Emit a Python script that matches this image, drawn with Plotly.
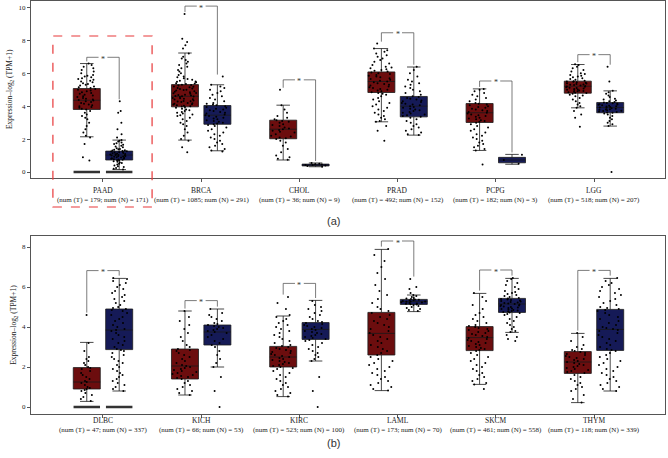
import plotly.graph_objects as go

# ---------------- data: panel (a) ----------------
cats_a = ["PAAD", "BRCA", "CHOL", "PRAD", "PCPG", "LGG"]
nT_a = [179, 1085, 36, 492, 182, 518]
nN_a = [171, 291, 9, 152, 3, 207]
T_q1_a = [3.8, 3.96, 2.02, 4.83, 3.01, 4.79]
T_med_a = [4.36, 4.6, 2.6, 5.5, 3.6, 5.21]
T_q3_a = [5.07, 5.31, 3.15, 6.08, 4.16, 5.52]
T_lo_a = [2.14, 1.94, 0.73, 3.05, 1.31, 3.9]
T_hi_a = [6.59, 7.23, 4.06, 7.5, 5.05, 6.53]
N_q1_a = [0.73, 2.9, 0.37, 3.35, 0.56, 3.6]
N_med_a = [1.03, 3.45, 0.42, 4.0, 0.73, 3.92]
N_q3_a = [1.27, 4.04, 0.48, 4.59, 0.89, 4.22]
N_lo_a = [0.15, 1.29, 0.32, 2.24, 0.47, 2.79]
N_hi_a = [1.94, 5.3, 0.55, 6.38, 1.07, 4.93]
sig_a = [6.97, 10.08, 5.6, 8.46, 5.53, 7.13]

PAAD_T = [6.6,6.5,6.4,6.3,6.2,6.1,6.0,5.9,5.85,5.8,5.75,5.7,5.65,5.6,5.55,5.5,5.45,5.4,5.35,5.3,5.25,5.2,5.15,5.1,5.05,5.0,4.95,4.9,4.85,4.8,4.75,4.7,4.65,4.6,4.55,4.5,4.45,4.4,4.38,4.35,4.3,4.25,4.2,4.15,4.1,4.05,4.0,3.95,3.9,3.85,3.8,3.7,3.6,3.5,3.4,3.3,3.2,3.0,2.8,2.6,2.4,2.2,2.1,1.7,0.9,0.7,0,0,0,0,0,0,0,0,0,0,0,0]
PAAD_N = [4.3,3.7,3.6,3.0,2.6,2.3,2.1,1.95,1.9,1.85,1.8,1.75,1.7,1.65,1.6,1.55,1.5,1.45,1.4,1.38,1.35,1.32,1.3,1.28,1.26,1.24,1.22,1.2,1.18,1.16,1.14,1.12,1.1,1.08,1.06,1.04,1.03,1.02,1.0,0.98,0.96,0.94,0.92,0.9,0.88,0.86,0.84,0.82,0.8,0.78,0.76,0.74,0.72,0.7,0.66,0.62,0.58,0.54,0.5,0.45,0.4,0.35,0.3,0.25,0.2,0.15,0,0,0,0,0,0,0,0,0,0,0,0]
BRCA_T = [9.6,8.1,7.9,7.7,7.5,7.2,7.0,6.9,6.8,6.7,6.6,6.5,6.4,6.3,6.2,6.1,6.0,5.9,5.8,5.75,5.7,5.65,5.6,5.55,5.5,5.48,5.45,5.4,5.38,5.35,5.3,5.28,5.25,5.2,5.18,5.15,5.1,5.08,5.05,5.0,4.98,4.95,4.9,4.88,4.85,4.8,4.78,4.75,4.7,4.68,4.65,4.62,4.6,4.58,4.55,4.5,4.48,4.45,4.42,4.4,4.35,4.32,4.3,4.28,4.25,4.2,4.18,4.15,4.12,4.1,4.05,4.02,4.0,3.98,3.95,3.9,3.85,3.8,3.75,3.7,3.65,3.6,3.55,3.5,3.45,3.4,3.3,3.2,3.1,3.0,2.9,2.8,2.6,2.4,2.2,2.0,1.9,1.5,1.2]
BRCA_N = [5.8,5.3,5.2,5.1,5.0,4.9,4.8,4.7,4.6,4.5,4.4,4.3,4.2,4.15,4.1,4.05,4.0,3.95,3.9,3.85,3.8,3.75,3.7,3.65,3.6,3.55,3.5,3.45,3.4,3.35,3.3,3.25,3.2,3.15,3.1,3.05,3.0,2.95,2.9,2.85,2.8,2.7,2.6,2.5,2.4,2.3,2.2,2.1,2.0,1.9,1.8,1.7,1.6,1.5,1.4,1.3,1.25]
CHOL_T = [5.0,4.05,3.8,3.6,3.4,3.3,3.2,3.15,3.1,3.05,3.0,2.9,2.85,2.8,2.7,2.65,2.6,2.55,2.5,2.45,2.4,2.3,2.2,2.15,2.1,2.05,2.0,1.9,1.8,1.6,1.4,1.2,1.0,0.9,0.8,0.75]
CHOL_N = [0.55,0.5,0.47,0.45,0.43,0.42,0.4,0.37,0.32]
PRAD_T = [7.8,7.5,7.4,7.3,7.2,7.1,7.0,6.9,6.8,6.7,6.6,6.5,6.4,6.35,6.3,6.25,6.2,6.15,6.1,6.05,6.0,5.95,5.9,5.85,5.8,5.75,5.7,5.65,5.6,5.55,5.5,5.45,5.4,5.35,5.3,5.25,5.2,5.15,5.1,5.05,5.0,4.95,4.9,4.85,4.8,4.75,4.7,4.6,4.5,4.4,4.3,4.2,4.1,4.0,3.9,3.8,3.7,3.6,3.5,3.4,3.3,3.2,3.1,3.05,2.8,2.5,1.9]
PRAD_N = [6.4,6.2,6.0,5.8,5.6,5.5,5.4,5.3,5.2,5.1,5.0,4.9,4.8,4.7,4.6,4.55,4.5,4.45,4.4,4.35,4.3,4.25,4.2,4.15,4.1,4.05,4.0,3.95,3.9,3.85,3.8,3.75,3.7,3.65,3.6,3.55,3.5,3.45,3.4,3.35,3.3,3.2,3.1,3.0,2.9,2.8,2.7,2.6,2.5,2.4,2.3,2.25]
PCPG_T = [5.05,5.0,4.9,4.8,4.7,4.6,4.5,4.4,4.3,4.2,4.15,4.1,4.05,4.0,3.95,3.9,3.85,3.8,3.75,3.7,3.65,3.6,3.55,3.5,3.45,3.4,3.35,3.3,3.25,3.2,3.15,3.1,3.05,3.0,2.9,2.8,2.7,2.6,2.5,2.4,2.3,2.2,2.1,2.0,1.9,1.8,1.7,1.6,1.5,1.4,1.3,0.45]
PCPG_N = [1.05,0.73,0.5]
LGG_T = [6.55,6.5,6.4,6.3,6.2,6.1,6.0,5.95,5.9,5.85,5.8,5.75,5.7,5.65,5.6,5.55,5.52,5.5,5.48,5.45,5.42,5.4,5.38,5.35,5.32,5.3,5.28,5.25,5.22,5.2,5.18,5.15,5.12,5.1,5.08,5.05,5.02,5.0,4.98,4.95,4.92,4.9,4.88,4.85,4.82,4.8,4.75,4.7,4.65,4.6,4.5,4.4,4.3,4.2,4.1,4.0,3.9,3.7,3.5,3.3,2.75]
LGG_N = [6.4,5.5,4.93,4.85,4.75,4.65,4.55,4.45,4.4,4.35,4.3,4.25,4.22,4.2,4.18,4.15,4.12,4.1,4.08,4.05,4.02,4.0,3.98,3.95,3.92,3.9,3.88,3.85,3.82,3.8,3.78,3.75,3.72,3.7,3.68,3.65,3.62,3.6,3.55,3.5,3.4,3.3,3.2,3.1,3.0,2.9,2.8,0.0]

pts_T_a = [PAAD_T, BRCA_T, CHOL_T, PRAD_T, PCPG_T, LGG_T]
pts_N_a = [PAAD_N, BRCA_N, CHOL_N, PRAD_N, PCPG_N, LGG_N]

# ---------------- data: panel (b) ----------------
cats_b = ["DLBC", "KICH", "KIRC", "LAML", "SKCM", "THYM"]
nT_b = [47, 66, 523, 173, 461, 118]
nN_b = [337, 53, 100, 70, 558, 339]
T_q1_b = [0.9, 1.4, 2.0, 2.6, 2.82, 1.68]
T_med_b = [1.25, 2.05, 2.5, 3.68, 3.47, 2.25]
T_q3_b = [1.97, 2.9, 3.03, 4.73, 4.02, 2.77]
T_lo_b = [0.28, 0.6, 0.52, 0.82, 1.13, 0.22]
T_hi_b = [3.23, 4.8, 4.55, 7.88, 5.68, 3.68]
N_q1_b = [2.87, 3.1, 3.38, 5.13, 4.73, 2.83]
N_med_b = [3.85, 3.75, 3.88, 5.27, 5.15, 3.88]
N_q3_b = [4.9, 4.1, 4.22, 5.38, 5.43, 4.88]
N_lo_b = [0.8, 2.0, 2.3, 4.77, 3.73, 0.8]
N_hi_b = [6.43, 4.9, 5.33, 5.6, 6.43, 6.43]
sig_b = [6.82, 5.32, 6.18, 8.3, 6.85, 6.83]

DLBC_T = [4.6,3.2,2.8,2.5,2.4,2.3,2.2,2.1,2.0,1.95,1.9,1.8,1.7,1.6,1.5,1.4,1.3,1.25,1.2,1.1,1.0,0.95,0.9,0.85,0.8,0.7,0.6,0.5,0.4,0.3,0,0,0,0,0,0,0,0,0,0,0,0]
DLBC_N = [6.45,6.4,6.3,6.2,6.1,6.0,5.9,5.8,5.7,5.6,5.5,5.4,5.3,5.2,5.1,5.0,4.95,4.9,4.85,4.8,4.7,4.6,4.5,4.4,4.3,4.2,4.1,4.0,3.9,3.85,3.8,3.7,3.6,3.5,3.4,3.3,3.2,3.1,3.0,2.9,2.85,2.8,2.7,2.6,2.5,2.4,2.3,2.2,2.1,2.0,1.9,1.8,1.7,1.6,1.5,1.4,1.3,1.2,1.1,1.0,0.9,0.8,0,0,0,0,0,0,0,0,0,0,0,0]
KICH_T = [4.8,4.5,4.3,4.1,3.9,3.7,3.5,3.3,3.1,3.0,2.9,2.85,2.8,2.7,2.6,2.5,2.4,2.3,2.2,2.1,2.05,2.0,1.95,1.9,1.85,1.8,1.75,1.7,1.65,1.6,1.55,1.5,1.45,1.4,1.3,1.2,1.1,1.0,0.9,0.8,0.7,0.6]
KICH_N = [4.9,4.7,4.6,4.5,4.4,4.3,4.2,4.15,4.1,4.05,4.0,3.95,3.9,3.85,3.8,3.75,3.7,3.6,3.5,3.4,3.3,3.2,3.1,3.0,2.8,2.6,2.4,2.2,2.0,1.5,0.8,0.0]
KIRC_T = [5.5,5.2,4.9,4.6,4.5,4.4,4.3,4.2,4.1,4.0,3.9,3.8,3.7,3.6,3.5,3.4,3.3,3.2,3.1,3.05,3.0,2.95,2.9,2.85,2.8,2.75,2.7,2.65,2.6,2.55,2.5,2.45,2.4,2.35,2.3,2.25,2.2,2.15,2.1,2.05,2.0,1.95,1.9,1.8,1.7,1.6,1.5,1.4,1.3,1.2,1.1,1.0,0.9,0.8,0.7,0.6,0.52]
KIRC_N = [5.3,5.1,5.0,4.9,4.8,4.7,4.6,4.5,4.4,4.3,4.25,4.2,4.15,4.1,4.05,4.0,3.95,3.9,3.85,3.8,3.75,3.7,3.65,3.6,3.55,3.5,3.45,3.4,3.35,3.3,3.2,3.1,3.0,2.9,2.8,2.7,2.6,2.5,2.4,2.3,1.5,0.8,0.0]
LAML_T = [7.9,7.6,7.3,7.0,6.7,6.4,6.1,5.8,5.6,5.4,5.2,5.0,4.9,4.8,4.7,4.6,4.5,4.4,4.3,4.2,4.1,4.0,3.9,3.8,3.7,3.6,3.5,3.4,3.3,3.2,3.1,3.0,2.9,2.8,2.7,2.6,2.5,2.4,2.3,2.2,2.1,2.0,1.9,1.8,1.7,1.6,1.5,1.4,1.3,1.2,1.1,1.0,0.9,0.82]
LAML_N = [6.4,6.0,5.9,5.7,5.6,5.55,5.5,5.45,5.42,5.4,5.38,5.36,5.34,5.32,5.3,5.28,5.27,5.26,5.24,5.22,5.2,5.18,5.16,5.14,5.12,5.1,5.05,5.0,4.95,4.9,4.85,4.8]
SKCM_T = [5.7,5.5,5.3,5.1,4.9,4.7,4.6,4.5,4.4,4.3,4.2,4.1,4.05,4.0,3.95,3.9,3.85,3.8,3.75,3.7,3.65,3.6,3.55,3.5,3.45,3.4,3.35,3.3,3.25,3.2,3.15,3.1,3.05,3.0,2.95,2.9,2.85,2.8,2.7,2.6,2.5,2.4,2.3,2.2,2.1,2.0,1.9,1.8,1.7,1.6,1.5,1.4,1.3,1.2,1.13,0.9]
SKCM_N = [6.45,6.4,6.3,6.2,6.1,6.0,5.9,5.8,5.75,5.7,5.65,5.6,5.55,5.5,5.45,5.42,5.4,5.38,5.35,5.32,5.3,5.28,5.25,5.22,5.2,5.18,5.15,5.12,5.1,5.08,5.05,5.02,5.0,4.98,4.95,4.92,4.9,4.88,4.85,4.82,4.8,4.77,4.75,4.72,4.7,4.65,4.6,4.5,4.4,4.3,4.2,4.1,4.0,3.9,3.8,3.75,3.6,3.5,3.4,3.3]
THYM_T = [3.7,3.5,3.3,3.1,3.0,2.9,2.85,2.8,2.75,2.7,2.65,2.6,2.55,2.5,2.45,2.4,2.35,2.3,2.25,2.2,2.15,2.1,2.05,2.0,1.95,1.9,1.85,1.8,1.75,1.7,1.6,1.5,1.4,1.3,1.2,1.1,1.0,0.9,0.8,0.6,0.4,0.22]
THYM_N = [6.45,6.3,6.2,6.1,6.0,5.9,5.8,5.7,5.6,5.5,5.4,5.3,5.2,5.1,5.0,4.95,4.9,4.85,4.8,4.7,4.6,4.5,4.4,4.3,4.2,4.1,4.0,3.95,3.9,3.85,3.8,3.7,3.6,3.5,3.4,3.3,3.2,3.1,3.0,2.9,2.85,2.8,2.7,2.6,2.5,2.4,2.3,2.2,2.1,2.0,1.9,1.8,1.7,1.6,1.5,1.4,1.3,1.2,1.1,1.0,0.9,0.8]

pts_T_b = [DLBC_T, KICH_T, KIRC_T, LAML_T, SKCM_T, THYM_T]
pts_N_b = [DLBC_N, KICH_N, KIRC_N, LAML_N, SKCM_N, THYM_N]

# ---------------- styling ----------------
W, H = 668, 458
TUMOR = "#6c0d0e"
NORMAL = "#151a57"
OFF = 0.165
BW = 0.275
SERIF = "Liberation Serif, Times New Roman, serif"

fig = go.Figure()


def add_panel(xa, ya, cats, tq1, tmed, tq3, tlo, thi, nq1, nmed, nq3, nlo, nhi, ptsT, ptsN, sig):
    xT = [i - OFF for i in range(len(cats))]
    xN = [i + OFF for i in range(len(cats))]
    for xs, q1, md, q3, lo, hi, col in [(xT, tq1, tmed, tq3, tlo, thi, TUMOR),
                                         (xN, nq1, nmed, nq3, nlo, nhi, NORMAL)]:
        fig.add_trace(go.Box(
            x=xs, q1=q1, median=md, q3=q3, lowerfence=lo, upperfence=hi,
            fillcolor=col, line=dict(color="#1a1a1a", width=0.8),
            width=BW, whiskerwidth=0.5, boxpoints=False,
            xaxis=xa, yaxis=ya, showlegend=False, hoverinfo="skip"))
    for xs, pts in [(xT, ptsT), (xN, ptsN)]:
        for i, vals in enumerate(pts):
            fig.add_trace(go.Box(
                x=[xs[i]] * len(vals), y=vals, boxpoints="all", jitter=0.95, pointpos=0,
                fillcolor="rgba(0,0,0,0)", line=dict(width=0, color="rgba(0,0,0,0)"),
                marker=dict(color="black", size=2), width=BW, whiskerwidth=0,
                xaxis=xa, yaxis=ya, showlegend=False, hoverinfo="skip"))
            # many zero-valued samples pile up into a solid bar at 0
            nz = vals.count(0)
            if nz >= 5:
                fig.add_trace(go.Box(
                    x=[xs[i]], q1=[0], median=[0], q3=[0], lowerfence=[0], upperfence=[0],
                    fillcolor="#333", line=dict(color="#333", width=2.6),
                    width=BW * 0.98, whiskerwidth=0, boxpoints=False,
                    xaxis=xa, yaxis=ya, showlegend=False, hoverinfo="skip"))
    # significance brackets
    for i in range(len(cats)):
        mid = (xT[i] + xN[i]) / 2
        g = 0.045
        legT = max(max(ptsT[i]), thi[i]) + 0.12
        legN = max(max(ptsN[i]), nhi[i]) + 0.12
        fig.add_trace(go.Scatter(
            x=[xT[i], xT[i], mid - g, None, mid + g, xN[i], xN[i]],
            y=[min(legT, sig[i]), sig[i], sig[i], None, sig[i], sig[i], min(legN, sig[i])],
            mode="lines", line=dict(color="#444", width=0.7),
            xaxis=xa, yaxis=ya, showlegend=False, hoverinfo="skip"))
        fig.add_annotation(x=mid, y=sig[i], xref=xa, yref=ya, text="*", showarrow=False,
                           font=dict(size=8, color="#333", family=SERIF), yshift=-2)


add_panel("x", "y", cats_a, T_q1_a, T_med_a, T_q3_a, T_lo_a, T_hi_a,
          N_q1_a, N_med_a, N_q3_a, N_lo_a, N_hi_a, pts_T_a, pts_N_a, sig_a)
add_panel("x2", "y2", cats_b, T_q1_b, T_med_b, T_q3_b, T_lo_b, T_hi_b,
          N_q1_b, N_med_b, N_q3_b, N_lo_b, N_hi_b, pts_T_b, pts_N_b, sig_b)

# category labels (two lines) under each x axis
for xa, cats, nT, nN, y_name, y_num in [("x", cats_a, nT_a, nN_a, 190.5, 200.0),
                                        ("x2", cats_b, nT_b, nN_b, 426.5, 435.5)]:
    for i, (c, t, n) in enumerate(zip(cats, nT, nN)):
        fig.add_annotation(x=i, y=1 - y_name / H, xref=xa, yref="paper", text=c,
                           showarrow=False, font=dict(family=SERIF, size=7.5, color="#222"))
        fig.add_annotation(x=i, y=1 - y_num / H, xref=xa, yref="paper",
                           text=f"(num (T) = {t}; num (N) = {n})",
                           showarrow=False, font=dict(family=SERIF, size=7, color="#222"))

xdom = [31 / W, 665 / W]
axis_common = dict(showline=True, mirror=True, linecolor="#555", linewidth=1,
                   ticks="outside", ticklen=3, tickcolor="#555", showgrid=False,
                   zeroline=False, automargin=False,
                   tickfont=dict(family=SERIF, size=7, color="#222"))
xr = [-0.733, 5.723]
ytitle = dict(text="Expression\u2013log<sub>2</sub> (TPM+1)",
              font=dict(family=SERIF, size=7.5, color="#222"), standoff=4)

fig.update_layout(
    width=W, height=H, margin=dict(l=0, r=0, t=0, b=0, autoexpand=False),
    paper_bgcolor="white", plot_bgcolor="white", boxmode="overlay",
    showlegend=False,
    xaxis=dict(domain=xdom, range=xr, tickvals=list(range(6)), showticklabels=False,
               anchor="y", **axis_common),
    yaxis=dict(domain=[1 - 178 / H, 1 - 0.5 / H], range=[-0.364, 10.42],
               tickvals=[0, 2, 4, 6, 8, 10], anchor="x", title=ytitle, **axis_common),
    xaxis2=dict(domain=xdom, range=xr, tickvals=list(range(6)), showticklabels=False,
                anchor="y2", **axis_common),
    yaxis2=dict(domain=[1 - 414 / H, 1 - 236 / H], range=[-0.35, 8.55],
                tickvals=[0, 2, 4, 6, 8], anchor="x2", title=ytitle, **axis_common),
)

# red dashed highlight around PAAD
fig.add_shape(type="rect", xref="x", yref="paper", x0=-0.51, x1=0.5,
              y0=1 - 207 / H, y1=1 - 36 / H,
              line=dict(color="#e8393a", width=1.2, dash="dash"), fillcolor="rgba(0,0,0,0)")

# panel labels
fig.add_annotation(xref="paper", yref="paper", x=333 / W, y=1 - 221 / H, text="(a)",
                   showarrow=False, font=dict(family="Liberation Sans, Arial", size=11, color="#333"))
fig.add_annotation(xref="paper", yref="paper", x=333 / W, y=1 - 451 / H, text="(b)",
                   showarrow=False, font=dict(family="Liberation Sans, Arial", size=11, color="#333"))

fig.write_html("out.html", config={"displayModeBar": False},
               post_script="document.body.style.margin='0px';document.body.style.overflow='hidden';")
